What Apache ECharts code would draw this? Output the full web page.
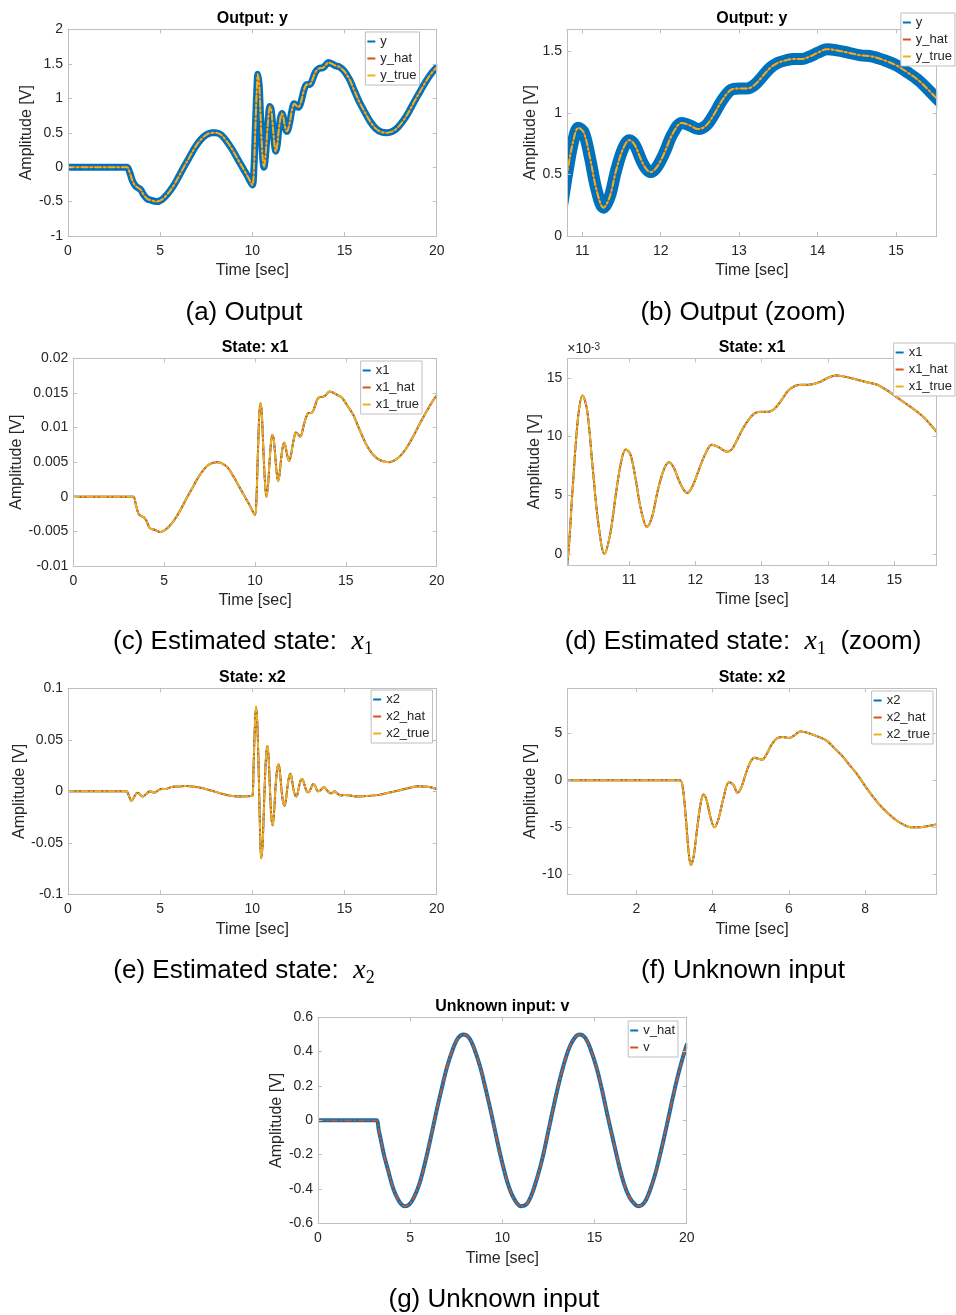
<!DOCTYPE html>
<html><head><meta charset="utf-8">
<script src="https://cdn.jsdelivr.net/npm/echarts@6/dist/echarts.min.js"></script>
<style>html,body{margin:0;padding:0;background:#fff}#c{width:956px;height:1315px}</style>
</head><body><div id="c"></div>
<script>
// ---------------- data ([time, value] pairs) ----------------
const outputY = [[0,0],[1,0],[2,0],[3,0],[3.2,0],[3.35,-0.08],[3.5,-0.2],[3.65,-0.27],[3.8,-0.3],[3.95,-0.33],[4.1,-0.4],[4.3,-0.46],[4.5,-0.48],[4.8,-0.5],[5.1,-0.47],[5.4,-0.39],[5.7,-0.28],[6.0,-0.14],[6.3,0.01],[6.6,0.15],[6.9,0.29],[7.2,0.4],[7.5,0.47],[7.8,0.5],[8.0,0.5],[8.3,0.47],[8.6,0.38],[8.9,0.26],[9.2,0.12],[9.5,-0.02],[9.8,-0.16],[10.0,-0.26],[10.08,-0.05],[10.16,0.55],[10.23,1.05],[10.3,1.35],[10.37,1.2],[10.45,0.72],[10.53,0.25],[10.63,0.0],[10.72,0.18],[10.805,0.5],[10.88,0.76],[10.95,0.88],[11.02,0.84],[11.1,0.63],[11.18,0.38],[11.27,0.23],[11.35,0.32],[11.43,0.53],[11.52,0.71],[11.6,0.78],[11.67,0.74],[11.75,0.62],[11.81,0.55],[11.87,0.52],[11.95,0.56],[12.05,0.68],[12.15,0.83],[12.27,0.92],[12.37,0.9],[12.48,0.87],[12.58,0.9],[12.68,0.99],[12.78,1.1],[12.9,1.19],[13.0,1.2],[13.1,1.2],[13.2,1.23],[13.3,1.3],[13.4,1.37],[13.5,1.41],[13.6,1.43],[13.7,1.44],[13.8,1.44],[13.9,1.46],[14.0,1.49],[14.12,1.52],[14.25,1.51],[14.4,1.49],[14.55,1.47],[14.7,1.46],[14.85,1.43],[15.0,1.39],[15.15,1.33],[15.3,1.26],[15.52,1.12],[15.8,0.95],[16.1,0.8],[16.4,0.66],[16.7,0.56],[17.0,0.51],[17.3,0.5],[17.6,0.52],[17.9,0.58],[18.2,0.68],[18.5,0.81],[18.8,0.96],[19.1,1.1],[19.4,1.24],[19.7,1.36],[20,1.45]];

const stateX1 = [[0,0],[1,0],[2,0],[3,0],[3.3,0],[3.45,-0.0012],[3.6,-0.0025],[3.75,-0.0028],[3.9,-0.003],[4.05,-0.0036],[4.2,-0.0045],[4.5,-0.0048],[4.8,-0.0051],[5.1,-0.0047],[5.4,-0.0039],[5.7,-0.0028],[6.0,-0.0014],[6.3,0.0001],[6.6,0.0015],[6.9,0.0029],[7.2,0.004],[7.5,0.0047],[7.9,0.005],[8.2,0.0048],[8.5,0.0042],[8.8,0.003],[9.1,0.0016],[9.4,0.0002],[9.7,-0.0012],[10.0,-0.0026],[10.07,-0.0009],[10.15,0.0055],[10.23,0.0115],[10.3,0.0135],[10.37,0.0122],[10.45,0.0075],[10.54,0.0025],[10.63,0.0],[10.72,0.0018],[10.8,0.005],[10.88,0.0078],[10.95,0.0089],[11.02,0.0085],[11.1,0.0064],[11.18,0.0038],[11.27,0.0023],[11.35,0.0032],[11.43,0.0053],[11.52,0.0071],[11.6,0.0078],[11.67,0.0074],[11.75,0.0063],[11.82,0.0055],[11.88,0.0052],[11.96,0.0058],[12.05,0.0071],[12.15,0.0085],[12.25,0.0093],[12.35,0.0091],[12.48,0.0087],[12.55,0.0089],[12.62,0.0096],[12.7,0.0105],[12.8,0.0114],[12.9,0.012],[13.0,0.0121],[13.1,0.0121],[13.2,0.0124],[13.3,0.0131],[13.4,0.0139],[13.5,0.0143],[13.6,0.0144],[13.7,0.0144],[13.8,0.0145],[13.9,0.0147],[14.0,0.015],[14.12,0.0152],[14.25,0.0151],[14.4,0.0149],[14.6,0.0146],[14.75,0.0144],[14.9,0.0139],[15.0,0.0135],[15.15,0.0129],[15.3,0.0123],[15.45,0.0116],[15.64,0.0104],[15.9,0.0088],[16.2,0.0072],[16.5,0.0061],[16.8,0.0054],[17.1,0.0051],[17.4,0.005],[17.7,0.0053],[18.0,0.0059],[18.3,0.0069],[18.6,0.0082],[18.9,0.0097],[19.2,0.0112],[19.5,0.0126],[19.8,0.0139],[20,0.0146]];

const stateX2 = [[0,0],[1,0],[2,0],[3,0],[3.15,0],[3.22,-0.0008],[3.3,-0.004],[3.37,-0.0075],[3.43,-0.009],[3.5,-0.0082],[3.6,-0.005],[3.7,-0.0022],[3.77,-0.0015],[3.85,-0.0022],[3.95,-0.004],[4.05,-0.005],[4.15,-0.0042],[4.28,-0.002],[4.43,-0.0002],[4.55,-0.0005],[4.65,-0.0013],[4.75,-0.0008],[4.88,0.0008],[5.0,0.002],[5.1,0.0024],[5.2,0.0023],[5.3,0.0022],[5.42,0.0028],[5.55,0.0038],[5.7,0.0045],[5.85,0.0046],[6.0,0.0045],[6.15,0.0048],[6.3,0.0052],[6.45,0.0051],[6.6,0.0049],[6.8,0.0046],[7.0,0.0042],[7.2,0.0034],[7.4,0.0026],[7.6,0.0016],[7.8,0.0006],[8.0,-0.0006],[8.2,-0.0017],[8.4,-0.0027],[8.6,-0.0035],[8.8,-0.0042],[9.0,-0.0047],[9.2,-0.005],[9.4,-0.005],[9.6,-0.0049],[9.88,-0.0047],[10.0,-0.0045],[10.06,0.02],[10.13,0.06],[10.2,0.082],[10.27,0.065],[10.35,0.015],[10.42,-0.04],[10.48,-0.065],[10.56,-0.05],[10.65,-0.005],[10.74,0.033],[10.82,0.044],[10.89,0.03],[10.96,0.0],[11.03,-0.025],[11.1,-0.033],[11.18,-0.02],[11.26,0.005],[11.35,0.022],[11.43,0.026],[11.51,0.016],[11.59,0.0],[11.67,-0.011],[11.75,-0.014],[11.83,-0.007],[11.91,0.005],[11.99,0.014],[12.07,0.017],[12.15,0.011],[12.23,0.002],[12.32,-0.004],[12.4,-0.005],[12.48,0.0],[12.55,0.006],[12.63,0.011],[12.7,0.012],[12.8,0.008],[12.9,0.002],[13.0,-0.001],[13.1,0.0],[13.2,0.004],[13.3,0.0072],[13.42,0.005],[13.55,0.0],[13.7,0.001],[13.8,0.003],[13.9,0.004],[14.0,0.002],[14.15,-0.001],[14.3,-0.002],[14.45,0.0],[14.6,-0.002],[14.8,-0.004],[15.0,-0.0035],[15.3,-0.004],[15.6,-0.005],[16.0,-0.0048],[16.5,-0.0042],[17.0,-0.003],[17.5,-0.001],[18.0,0.001],[18.5,0.0033],[19.0,0.0048],[19.5,0.0045],[20,0.0022]];

const inputV = [[0,0],[1,0],[2,0],[3,0],[3.18,0],[3.3,-0.06],[3.4,-0.11],[3.6,-0.21],[3.8,-0.29],[4.0,-0.37],[4.2,-0.43],[4.45,-0.48],[4.7,-0.5],[4.95,-0.49],[5.2,-0.45],[5.5,-0.37],[5.8,-0.25],[6.1,-0.11],[6.4,0.04],[6.7,0.18],[7.0,0.31],[7.3,0.41],[7.6,0.48],[7.9,0.5],[8.2,0.48],[8.5,0.41],[8.8,0.31],[9.1,0.18],[9.4,0.04],[9.7,-0.11],[10.0,-0.25],[10.3,-0.37],[10.6,-0.45],[11.0,-0.5],[11.3,-0.49],[11.6,-0.43],[11.9,-0.33],[12.2,-0.21],[12.5,-0.06],[12.8,0.09],[13.1,0.23],[13.4,0.35],[13.7,0.44],[14.0,0.49],[14.2,0.5],[14.5,0.48],[14.8,0.41],[15.1,0.31],[15.4,0.18],[15.7,0.03],[16.0,-0.11],[16.3,-0.25],[16.6,-0.37],[16.9,-0.45],[17.2,-0.49],[17.4,-0.5],[17.7,-0.48],[18.0,-0.41],[18.3,-0.31],[18.6,-0.18],[18.9,-0.04],[19.2,0.11],[19.5,0.25],[19.8,0.37],[20,0.44]];

const legendOutput = ['y', 'y_hat', 'y_true'];
const legendX1 = ['x1', 'x1_hat', 'x1_true'];
const legendX2 = ['x2', 'x2_hat', 'x2_true'];
const legendV = ['v_hat', 'v'];
const panelTitles = ['Output: y', 'Output: y', 'State: x1', 'State: x1', 'State: x2', 'State: x2', 'Unknown input: v'];

// ---------------- styling / layout ----------------
const FONT = '"Liberation Sans", Arial, Helvetica, sans-serif';
const SERIF = '"Liberation Serif", "DejaVu Serif", serif';
const BLUE = '#0072BD', RED = '#D95319', YEL = '#EDB120';
const AXC = '#bfbfbf', TXT = '#262626';
const DASHDOT = [6, 3, 1.5, 3];
const W = 956;

const panels = [
  {g:[68,29.5,368.7,206.5], x:{min:0,max:20,interval:5}, y:{min:-1,max:2,interval:0.5}, yGap:30, legR:W-419.5, legT:32},
  {g:[567,29.5,369.7,206.5], x:{min:10.805,max:15.52,splitNumber:5,ends:true}, y:{min:0,max:1.68,interval:0.5,hideMax:true}, yGap:24, legR:1, legT:13},
  {g:[73.3,358.3,363.4,207.7], x:{min:0,max:20,interval:5}, y:{min:-0.01,max:0.02,interval:0.005}, yGap:45, legR:W-422, legT:361},
  {g:[567.3,358.3,369.4,206.7], x:{min:10.07,max:15.64,splitNumber:5,ends:true}, y:{min:-0.00094,max:0.01666,splitNumber:4,ends:true,milli:true}, yGap:21, legR:1, legT:343, exp:true},
  {g:[68,688.3,368.7,206], x:{min:0,max:20,interval:5}, y:{min:-0.1,max:0.1,interval:0.05}, yGap:38, legR:W-432.5, legT:690},
  {g:[567.3,688.3,369.4,206], x:{min:0.19,max:9.88,splitNumber:5,ends:true}, y:{min:-0.01213,max:0.00979,splitNumber:5,ends:true,milli:true}, yGap:25, legR:W-933, legT:691},
  {g:[318,1017.3,368.7,206], x:{min:0,max:20,interval:5}, y:{min:-0.6,max:0.6,interval:0.2}, yGap:30, legR:W-678, legT:1021}
];

const grids = [], xAxes = [], yAxes = [], legends = [], series = [], graphics = [];

function axisBase(gi, spec, pos, showLabel) {
  const a = {
    gridIndex: gi, type: 'value', position: pos, min: spec.min, max: spec.max, z: 10,
    axisLine: {show: true, onZero: false, lineStyle: {color: AXC, width: 1}},
    axisTick: {show: true, inside: true, length: 4, lineStyle: {color: AXC}},
    splitLine: {show: false},
    axisLabel: {show: showLabel, color: TXT, fontSize: 14, fontFamily: FONT,
      showMinLabel: !spec.ends, showMaxLabel: !(spec.ends || spec.hideMax)}
  };
  if (spec.interval) a.interval = spec.interval;
  if (spec.splitNumber) a.splitNumber = spec.splitNumber;
  if (spec.milli) a.axisLabel.formatter = v => String(Math.round(v * 1000));
  return a;
}

panels.forEach((p, i) => {
  const [l, t, w, h] = p.g;
  grids.push({left: l, top: t, width: w, height: h, containLabel: false, outerBoundsMode: 'none', show: false});
  const xb = axisBase(i, p.x, 'bottom', true);
  xb.name = 'Time [sec]'; xb.nameLocation = 'middle'; xb.nameGap = 27;
  xb.nameTextStyle = {fontSize: 16, color: TXT, fontFamily: FONT};
  xb.axisLabel.margin = 8;
  xAxes.push(xb);
  xAxes.push(axisBase(i, p.x, 'top', false));
  const yl = axisBase(i, p.y, 'left', true);
  yl.name = 'Amplitude [V]'; yl.nameLocation = 'middle'; yl.nameGap = p.yGap;
  yl.nameTextStyle = {fontSize: 16, color: TXT, fontFamily: FONT};
  yl.axisLabel.margin = 5;
  yAxes.push(yl);
  yAxes.push(axisBase(i, p.y, 'right', false));

  // white frame that hides the part of thick lines spilling past the box (drawn below the axes)
  const m = 9;
  [[l - m, t - m, m, h + 2 * m], [l + w + 0.5, t - m, m, h + 2 * m], [l - m, t - m, w + 2 * m, m], [l - m, t + h + 0.5, w + 2 * m, m]]
    .forEach(r => graphics.push({type: 'rect', z: 5, silent: true,
      shape: {x: r[0], y: r[1], width: r[2], height: r[3]}, style: {fill: '#fff'}}));

  // title
  graphics.push({type: 'text', x: l + w / 2, y: t - 10.5, z: 100,
    style: {text: panelTitles[i], fontSize: 16, fontWeight: 'bold', fontFamily: FONT, fill: '#000', align: 'center', verticalAlign: 'middle'}});
  if (p.exp) {
    graphics.push({type: 'text', x: l, y: t - 9, z: 100,
      style: {text: '×10{s|-3}', fontSize: 14, fontFamily: FONT, fill: TXT, align: 'left', verticalAlign: 'middle',
        rich: {s: {fontSize: 10, fontFamily: FONT, fill: TXT, verticalAlign: 'top', lineHeight: 10, padding: [0, 0, 8, 0]}}}});
  }
});

function addLegend(names, p) {
  legends.push({data: names, right: p.legR, top: p.legT, orient: 'vertical', icon: 'rect',
    itemWidth: 8, itemHeight: 2, itemGap: 2, padding: [2, 3, 2, 2],
    borderColor: AXC, borderWidth: 1, backgroundColor: '#fff', selectedMode: false, z: 50,
    textStyle: {fontSize: 13, color: TXT, fontFamily: FONT, lineHeight: 15}});
}

function line(name, data, gi, color, width, dash, z) {
  return {name, type: 'line', data, xAxisIndex: 2 * gi, yAxisIndex: 2 * gi, color: color,
    showSymbol: false, symbol: 'none', smooth: 0.35, clip: true, z: z,
    lineStyle: {color, width, type: dash || 'solid', cap: 'round', join: 'round'},
    itemStyle: {color}, animation: false};
}

// (a),(b) output y — measured (noisy) y drawn as a thick band
[[0, 7], [1, 12]].forEach(([gi, bw]) => {
  series.push(line('y', outputY, gi, BLUE, bw, null, 2));
  series.push(line('y_hat', outputY, gi, RED, 1.6, null, 3));
  series.push(line('y_true', outputY, gi, YEL, 2, DASHDOT, 4));
  addLegend(legendOutput, panels[gi]);
});
// (c),(d) x1
[2, 3].forEach(gi => {
  series.push(line('x1', stateX1, gi, BLUE, 2, null, 2));
  series.push(line('x1_hat', stateX1, gi, RED, 1.8, null, 3));
  series.push(line('x1_true', stateX1, gi, YEL, 2, DASHDOT, 4));
  addLegend(legendX1, panels[gi]);
});
// (e),(f) x2
[4, 5].forEach(gi => {
  series.push(line('x2', stateX2, gi, BLUE, 2, null, 2));
  series.push(line('x2_hat', stateX2, gi, RED, 1.8, null, 3));
  series.push(line('x2_true', stateX2, gi, YEL, 2, DASHDOT, 4));
  addLegend(legendX2, panels[gi]);
});
// (g) unknown input
series.push(line('v_hat', inputV, 6, BLUE, 4, null, 2));
series.push(line('v', inputV, 6, RED, 1.8, DASHDOT, 3));
addLegend(legendV, panels[6]);

// captions
const captions = [
  [244, 313, '(a) Output'], [743, 313, '(b) Output (zoom)'],
  [243, 642, '(c) Estimated state:  {i|x}{s|1}'], [743, 642, '(d) Estimated state:  {i|x}{s|1}  (zoom)'],
  [244, 971, '(e) Estimated state:  {i|x}{s|2}'], [743, 971, '(f) Unknown input'],
  [494, 1300, '(g) Unknown input']
];
captions.forEach(([x, y, txt]) => {
  graphics.push({type: 'text', x, y, z: 100,
    style: {text: txt, fontSize: 26, fontFamily: FONT, fill: '#000', align: 'center', verticalAlign: 'middle', lineHeight: 32,
      rich: {
        i: {fontSize: 28, fontFamily: SERIF, fontStyle: 'italic', fill: '#000', lineHeight: 32},
        s: {fontSize: 18, fontFamily: SERIF, fill: '#000', verticalAlign: 'bottom', lineHeight: 16}
      }}});
});

const chart = echarts.init(document.getElementById('c'), null, {renderer: 'canvas', width: 956, height: 1315});
chart.setOption({
  animation: false, backgroundColor: '#fff',
  textStyle: {fontFamily: FONT},
  grid: grids, xAxis: xAxes, yAxis: yAxes, legend: legends, series, graphic: graphics
});
</script></body></html>
